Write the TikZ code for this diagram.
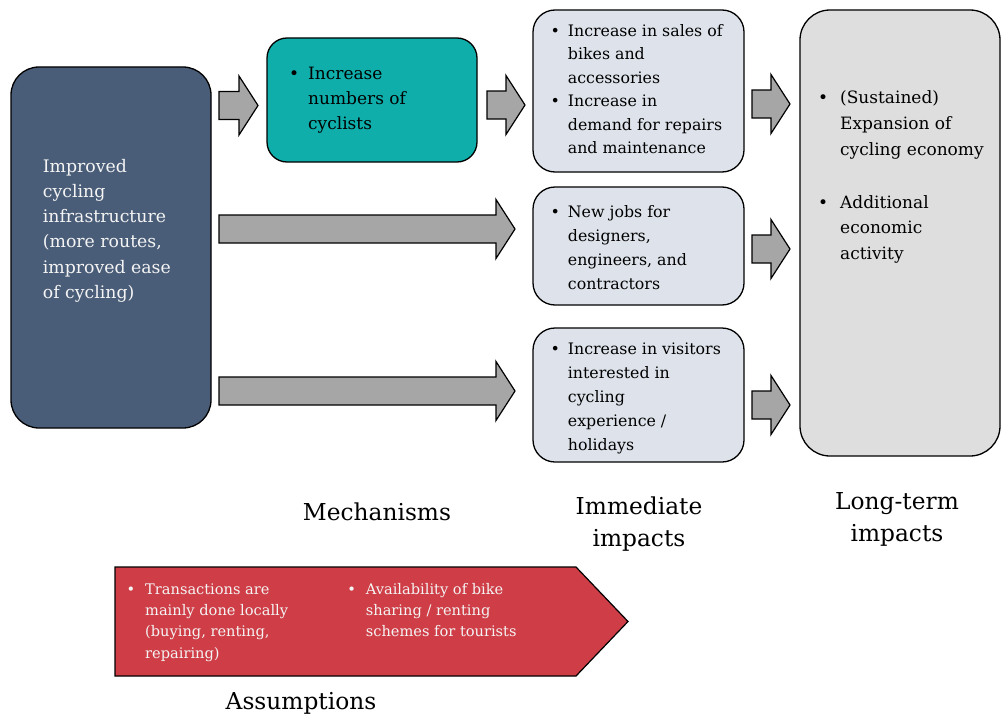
\documentclass[tikz,border=0pt]{standalone}
\usepackage{fontspec}
\setmainfont{DejaVu Serif}
\usetikzlibrary{calc}

\definecolor{infrafill}{HTML}{4A5D78}
\definecolor{mechfill}{HTML}{0FAEAB}
\definecolor{immfill}{HTML}{DEE3EB}
\definecolor{ltfill}{HTML}{DEDEDE}
\definecolor{arrowfill}{HTML}{A6A6A6}
\definecolor{assumfill}{HTML}{CF3E47}
\definecolor{lighttext}{HTML}{F4F4F4}

% bullet hung to the left of the text start
\newcommand\bul[1][9pt]{\llap{\textbullet\hskip#1}}

% block arrow from a start point to a tip point (drawn at the start's height)
\newcommand\blockarrow[2]{%
  \draw[blockarr] let \p1=(#1), \p2=(#2) in
    (\x1,\y1+14pt) -- (\x2-19pt,\y1+14pt) -- (\x2-19pt,\y1+29.5pt) -- (\x2,\y1)
    -- (\x2-19pt,\y1-29.5pt) -- (\x2-19pt,\y1-14pt) -- (\x1,\y1-14pt) -- cycle;}

% text blocks are placed by the baseline of their last line
\tikzset{
  stagebox/.style={draw=black, line width=1.3pt, inner sep=0pt, outer sep=0pt},
  blockarr/.style={draw=black, line width=1.2pt, fill=arrowfill, line join=miter},
  boxtext/.style={anchor=base west, align=left, inner sep=0pt},
  caption/.style={align=center, inner sep=0pt, font=\fontsize{23.3}{32}\selectfont},
}

\begin{document}
\begin{tikzpicture}[x=1pt,y=-1pt]
\useasboundingbox (0,0) rectangle (1001,717);

% stage boxes
\node[stagebox, fill=infrafill, rounded corners=28pt, minimum width=200pt, minimum height=361pt] (inf) at (111,247.5) {};
\node[stagebox, fill=mechfill, rounded corners=20pt, minimum width=210pt, minimum height=124pt] (mech) at (372,100) {};
\node[stagebox, fill=immfill, rounded corners=22pt, minimum width=211pt, minimum height=162pt] (imm1) at (638.5,91) {};
\node[stagebox, fill=immfill, rounded corners=22pt, minimum width=211pt, minimum height=118pt] (imm2) at (638.5,246) {};
\node[stagebox, fill=immfill, rounded corners=22pt, minimum width=211pt, minimum height=134pt] (imm3) at (638.5,395) {};
\node[stagebox, fill=ltfill, rounded corners=30pt, minimum width=200pt, minimum height=446pt] (lt) at (900,233) {};

% arrow end points
\coordinate (a1s) at ([xshift=8pt]inf.east |- 0,105.5);
\coordinate (a1e) at ([xshift=-9pt]mech.west |- 0,105.5);
\coordinate (a2s) at ([xshift=10pt]mech.east |- 0,105);
\coordinate (a2e) at ([xshift=-8pt]imm1.west |- 0,105);
\coordinate (a3s) at ([xshift=8pt]inf.east |- 0,229);
\coordinate (a3e) at ([xshift=-18pt]imm2.west |- 0,229);
\coordinate (a4s) at ([xshift=8pt]inf.east |- 0,391);
\coordinate (a4e) at ([xshift=-18pt]imm3.west |- 0,391);
\coordinate (a5s) at ([xshift=8pt]imm1.east |- 0,104);
\coordinate (a5e) at ([xshift=-10pt]lt.west |- 0,104);
\coordinate (a6s) at ([xshift=8pt]imm2.east |- 0,249);
\coordinate (a6e) at ([xshift=-10pt]lt.west |- 0,249);
\coordinate (a7s) at ([xshift=8pt]imm3.east |- 0,405);
\coordinate (a7e) at ([xshift=-10pt]lt.west |- 0,405);

\blockarrow{a1s}{a1e}
\blockarrow{a2s}{a2e}
\blockarrow{a3s}{a3e}
\blockarrow{a4s}{a4e}
\blockarrow{a5s}{a5e}
\blockarrow{a6s}{a6e}
\blockarrow{a7s}{a7e}

% box texts
\node[boxtext, text=lighttext, font=\fontsize{17.3}{25.3}\selectfont] (t-inf) at (42.7,298.5)
  {Improved\\cycling\\infrastructure\\(more routes,\\improved ease\\of cycling)};
\node[boxtext, font=\fontsize{17}{25.3}\selectfont] (t-mech) at (308,129.9)
  {\bul Increase\\numbers of\\cyclists};
\node[boxtext, font=\fontsize{15.8}{23.5}\selectfont] (t-imm1) at (567.7,153.5)
  {\bul[8pt]Increase in sales of\\bikes and\\accessories\\\bul[8pt]Increase in\\demand for repairs\\and maintenance};
\node[boxtext, font=\fontsize{15.8}{23.7}\selectfont] (t-imm2) at (567.7,289)
  {\bul[8pt]New jobs for\\designers,\\engineers, and\\contractors};
\node[boxtext, font=\fontsize{15.8}{24}\selectfont] (t-imm3) at (567.7,450)
  {\bul[8pt]Increase in visitors\\interested in\\cycling\\experience /\\holidays};
\node[boxtext, font=\fontsize{17}{25.7}\selectfont] (t-lt) at (840,259.5)
  {\bul[12pt](Sustained)\\Expansion of\\cycling economy\\[27.3pt]\bul[12pt]Additional\\economic\\activity};

% assumptions banner
\draw[line width=1.2pt, fill=assumfill] (115,567) -- (576,567) -- (628,621.5) -- (576,676) -- (115,676) -- cycle;
\node[boxtext, text=lighttext, font=\fontsize{14.6}{21.3}\selectfont] (t-as1) at (145,658)
  {\bul[10pt]Transactions are\\mainly done locally\\(buying, renting,\\repairing)};
\node[boxtext, text=lighttext, font=\fontsize{14.6}{21.3}\selectfont] (t-as2) at (365.7,636.6)
  {\bul[10pt]Availability of bike\\sharing / renting\\schemes for tourists};

% column captions
\node[caption] (c-mech) at (377,512) {Mechanisms};
\node[caption] (c-imm) at (639,524) {Immediate\\impacts};
\node[caption] (c-lt) at (897,519) {Long-term\\impacts};
\node[caption] (c-as) at (301,703) {Assumptions};
\end{tikzpicture}
\end{document}
